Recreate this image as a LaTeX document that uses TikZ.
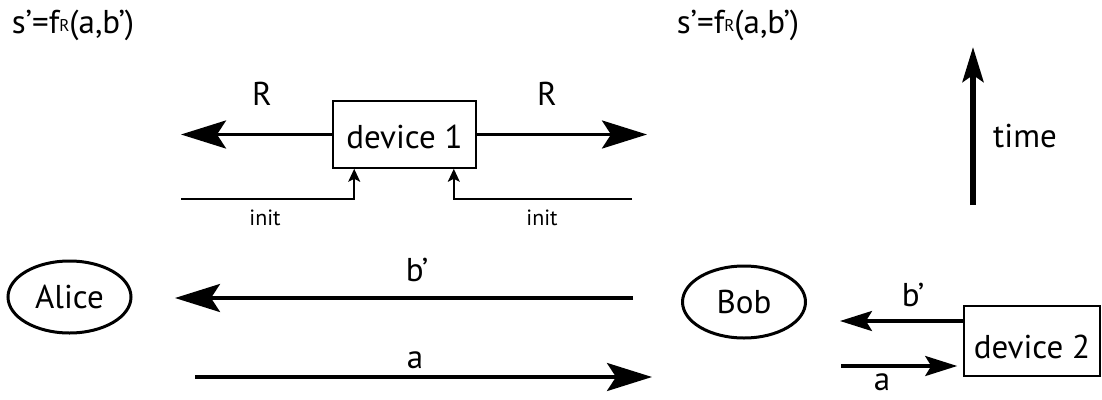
\documentclass[tikz,border=0pt]{standalone}
\usepackage{fontspec}
\setmainfont{PT Sans}
\usetikzlibrary{arrows.meta,shapes.geometric}
\tikzset{
  lab/.style={font=\fontsize{33}{36}\selectfont, inner sep=0pt, anchor=base},
  smalllab/.style={font=\fontsize{22}{24}\selectfont, inner sep=0pt, anchor=base},
  bigarrow/.style={line width=3.5pt, -{Stealth[length=45pt,width=28pt,inset=9pt]}},
  midarrow/.style={line width=3.2pt, -{Stealth[length=32pt,width=20pt,inset=6pt]}},
  timearrow/.style={line width=5.5pt, -{Stealth[length=35pt,width=21pt,inset=7pt]}},
  initarrow/.style={line width=1.6pt, -{Stealth[length=13pt,width=12pt,inset=3pt]}},
  devbox/.style={draw, line width=1.6pt, inner sep=0pt, font=\fontsize{33}{36}\selectfont, text depth=0pt},
  person/.style={draw, ellipse, line width=3pt, inner sep=0pt, minimum width=123pt, minimum height=72pt, font=\fontsize{33}{36}\selectfont, text height=22pt, text depth=0pt},
}
\newcommand{\fR}{f\raisebox{1.5pt}{\fontsize{17}{18}\selectfont R}}
\begin{document}
\begin{tikzpicture}[x=1pt,y=-1pt]
\useasboundingbox (0,0) rectangle (1102,399);
% formulas
\node[lab] (f1) at (73,33) {s’=\fR(a,b’)};
\node[lab] (f2) at (738,33) {s’=\fR(a,b’)};
% device 1
\node[devbox, minimum width=143pt, minimum height=67pt, text height=27pt] (d1) at (404.5,134.5) {device 1};
\coordinate (rl) at (181,134.5);
\coordinate (rr) at (647,134.5);
\draw[bigarrow] (d1.west) -- (rl);
\draw[bigarrow] (d1.east) -- (rr);
\node[lab] (r1) at (262,105) {R};
\node[lab] (r2) at (547,105) {R};
% init
\coordinate (il) at (181,199);
\coordinate (ir) at (632,199);
\draw[initarrow] (il) -| ([xshift=22pt]d1.south west);
\draw[initarrow] (ir) -| ([xshift=-23pt]d1.south east);
\node[smalllab] (i1) at (265,225) {init};
\node[smalllab] (i2) at (542,225) {init};
% time
\coordinate (ts) at (973,205);
\coordinate (te) at (973,47);
\draw[timearrow] (ts) -- (te);
\node[lab] (tl) at (1025,147) {time};
% Alice and Bob
\node[person] (alice) at (69.5,297) {Alice};
\node[person] (bob) at (744,302) {Bob};
\coordinate (bs) at (633,298);
\coordinate (be) at (175,298);
\draw[bigarrow] (bs) -- (be);
\node[lab] (bl) at (417,281) {b’};
\coordinate (as) at (195,377);
\coordinate (ae) at (652,377);
\draw[bigarrow] (as) -- (ae);
\node[lab] (al) at (415,368) {a};
% device 2
\node[devbox, minimum width=136pt, minimum height=70pt, text height=34pt] (d2) at (1032,341) {device 2};
\coordinate (b2e) at (840,321);
\draw[midarrow] ([yshift=20pt]d2.west) -- (b2e);
\coordinate (a2s) at (841,366);
\draw[midarrow, shorten >=6pt] (a2s) -- ([yshift=-25pt]d2.west);
\node[lab] (b2l) at (913,306) {b’};
\node[lab] (a2l) at (882,390) {a};
\end{tikzpicture}
\end{document}
